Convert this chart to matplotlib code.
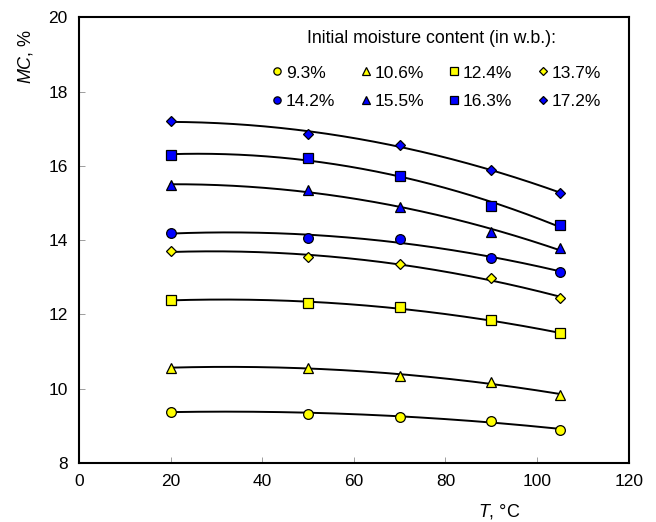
import matplotlib
matplotlib.use("Agg")
import matplotlib.pyplot as plt
import numpy as np

plt.rcParams["font.family"] = ["Liberation Sans", "DejaVu Sans"]
plt.rcParams["mathtext.fontset"] = "custom"
plt.rcParams["mathtext.rm"] = "Liberation Sans"
plt.rcParams["mathtext.it"] = "Liberation Sans:italic"

# drying temperature, degC
temps = [20, 50, 70, 90, 105]

# equilibrium moisture content at each temperature, per initial moisture content
mc_93 = [9.38, 9.33, 9.25, 9.14, 8.89]
mc_106 = [10.57, 10.55, 10.35, 10.19, 9.83]
mc_124 = [12.39, 12.30, 12.19, 11.84, 11.49]
mc_137 = [13.70, 13.55, 13.35, 12.99, 12.43]
mc_142 = [14.20, 14.05, 14.03, 13.53, 13.15]
mc_155 = [15.48, 15.36, 14.88, 14.22, 13.78]
mc_163 = [16.29, 16.20, 15.73, 14.91, 14.42]
mc_172 = [17.20, 16.87, 16.56, 15.90, 15.26]

labels = ["9.3%", "10.6%", "12.4%", "13.7%", "14.2%", "15.5%", "16.3%", "17.2%"]

YELLOW = "#FFFF00"
BLUE = "#0000FF"

series = [
    (mc_93, "o", YELLOW, 7),
    (mc_106, "^", YELLOW, 7.5),
    (mc_124, "s", YELLOW, 7),
    (mc_137, "D", YELLOW, 5.5),
    (mc_142, "o", BLUE, 7),
    (mc_155, "^", BLUE, 7.5),
    (mc_163, "s", BLUE, 7),
    (mc_172, "D", BLUE, 5.5),
]

fig = plt.figure(figsize=(6.56, 5.22), dpi=100, facecolor="white")
ax = fig.add_axes([0.1204, 0.113, 0.838, 0.854])

t_fine = np.linspace(temps[0], temps[-1], 200)
handles = []
for (vals, mk, col, ms), lab in zip(series, labels):
    coef = np.polyfit(temps, vals, 2)
    ax.plot(t_fine, np.polyval(coef, t_fine), color="black", lw=1.4, zorder=2)
    h, = ax.plot(temps, vals, linestyle="none", marker=mk, markersize=ms,
                 markerfacecolor=col, markeredgecolor="black",
                 markeredgewidth=0.9, label=lab, zorder=3)
    handles.append(h)

ax.set_xlim(0, 120)
ax.set_ylim(8, 20)
ax.set_xticks(range(0, 121, 20))
ax.set_yticks(range(8, 21, 2))
ax.tick_params(direction="in", length=4, width=0.5, color="#777777",
               labelsize=12.5)
ax.tick_params(axis="x", pad=8)
ax.tick_params(axis="y", pad=8)
for sp in ax.spines.values():
    sp.set_linewidth(1.5)

ax.text(0.764, -0.108, r"$T$, °C", transform=ax.transAxes,
        ha="center", va="center", fontsize=13)
ax.text(-0.098, 0.913, r"$MC$, %", transform=ax.transAxes,
        ha="center", va="center", fontsize=13, rotation=90)

# legend: two rows of four, filled column by column
ax.text(0.642, 0.953, "Initial moisture content (in w.b.):",
        transform=ax.transAxes, ha="center", va="center", fontsize=12.8)
order = [0, 4, 1, 5, 2, 6, 3, 7]
ax.legend([handles[i] for i in order], [labels[i] for i in order],
          ncol=4, frameon=False, fontsize=12.5, markerscale=0.75,
          loc="upper left", bbox_to_anchor=(0.351, 0.892),
          handlelength=0.6, handletextpad=0.2, columnspacing=1.45,
          labelspacing=0.75, borderaxespad=0, borderpad=0)

fig.savefig("out.png", dpi=100, facecolor="white")
